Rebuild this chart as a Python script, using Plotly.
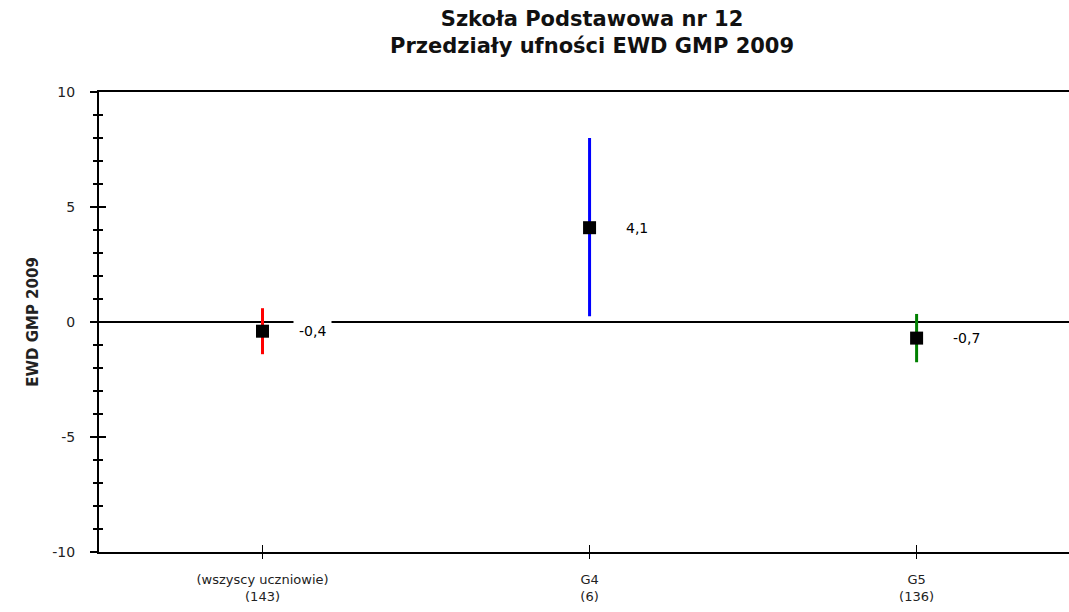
import plotly.graph_objects as go

# data
categories = ["(wszyscy uczniowie)<br>(143)", "G4<br>(6)", "G5<br>(136)"]
ewd_mean = [-0.4, 4.1, -0.7]
ci_low = [-1.4, 0.25, -1.75]
ci_high = [0.6, 8.0, 0.35]
bar_colors = ["#ff0000", "#0000ff", "#008000"]

fig = go.Figure()

for i, cat in enumerate(categories):
    fig.add_trace(go.Scatter(
        x=[i], y=[ewd_mean[i]],
        mode="markers",
        marker=dict(symbol="square", size=13, color="black"),
        error_y=dict(
            type="data", symmetric=False,
            array=[ci_high[i] - ewd_mean[i]],
            arrayminus=[ewd_mean[i] - ci_low[i]],
            color=bar_colors[i], thickness=3, width=0,
        ),
        showlegend=False,
    ))
    fig.add_annotation(
        x=i, y=ewd_mean[i], text=f"{ewd_mean[i]:.1f}".replace(".", ","),
        showarrow=False, xanchor="left", xshift=30,
        bgcolor="white", borderpad=5,
        font=dict(family="DejaVu Sans", size=14, color="black"),
    )

# overlay axes give the crossing ticks
fig.add_trace(go.Scatter(x=[None], y=[None], xaxis="x2", yaxis="y2", showlegend=False))

tick_font = dict(family="DejaVu Sans", size=14, color="#222")

fig.update_layout(
    width=1069, height=612,
    margin=dict(l=99, r=0, t=92, b=60, autoexpand=False),
    plot_bgcolor="white", paper_bgcolor="white",
    xaxis=dict(
        range=[-0.5, 2.466], tickvals=[0, 1, 2], ticktext=categories,
        showline=True, linecolor="black", linewidth=2, mirror=True,
        ticks="inside", ticklen=7, tickwidth=1, tickcolor="black",
        showgrid=False, zeroline=False, automargin=False, ticklabelstandoff=14,
        tickfont=dict(family="DejaVu Sans", size=13, color="#222"),
    ),
    xaxis2=dict(
        overlaying="x", range=[-0.5, 2.466], tickvals=[0, 1, 2], showticklabels=False,
        ticks="outside", ticklen=6, tickcolor="black", showgrid=False, zeroline=False,
    ),
    yaxis=dict(
        range=[-10, 10], tickvals=[-10, -5, 0, 5, 10], ticktext=["-10", "-5", "0", "5", "10"],
        showline=True, linecolor="black", linewidth=2,
        ticks="outside", ticklen=7, tickwidth=2, tickcolor="black",
        minor=dict(dtick=1, ticks="outside", ticklen=4, tickwidth=2, tickcolor="black", showgrid=False),
        showgrid=False, zeroline=True, zerolinecolor="black", zerolinewidth=2,
        tickfont=tick_font, ticklabelstandoff=12, automargin=False,
        title=dict(text="<b>EWD GMP 2009</b>", font=dict(family="DejaVu Sans", size=15, color="#222"), standoff=10),
    ),
    yaxis2=dict(
        overlaying="y", range=[-10, 10], tickvals=[-10, -5, 0, 5, 10], showticklabels=False,
        ticks="inside", ticklen=7, tickwidth=2, tickcolor="black",
        minor=dict(dtick=1, ticks="inside", ticklen=4, tickwidth=2, tickcolor="black"),
        showgrid=False, zeroline=False,
    ),
)

fig.add_annotation(
    xref="paper", yref="paper", x=0.508, y=1, yshift=32, yanchor="bottom",
    text="<b>Szkoła Podstawowa nr 12<br>Przedziały ufności EWD GMP 2009</b>",
    showarrow=False, font=dict(family="DejaVu Sans", size=21, color="#111"),
)

fig.write_html("out.html", config={"displayModeBar": False},
               post_script="document.body.style.margin='0';document.body.style.overflow='hidden';")
